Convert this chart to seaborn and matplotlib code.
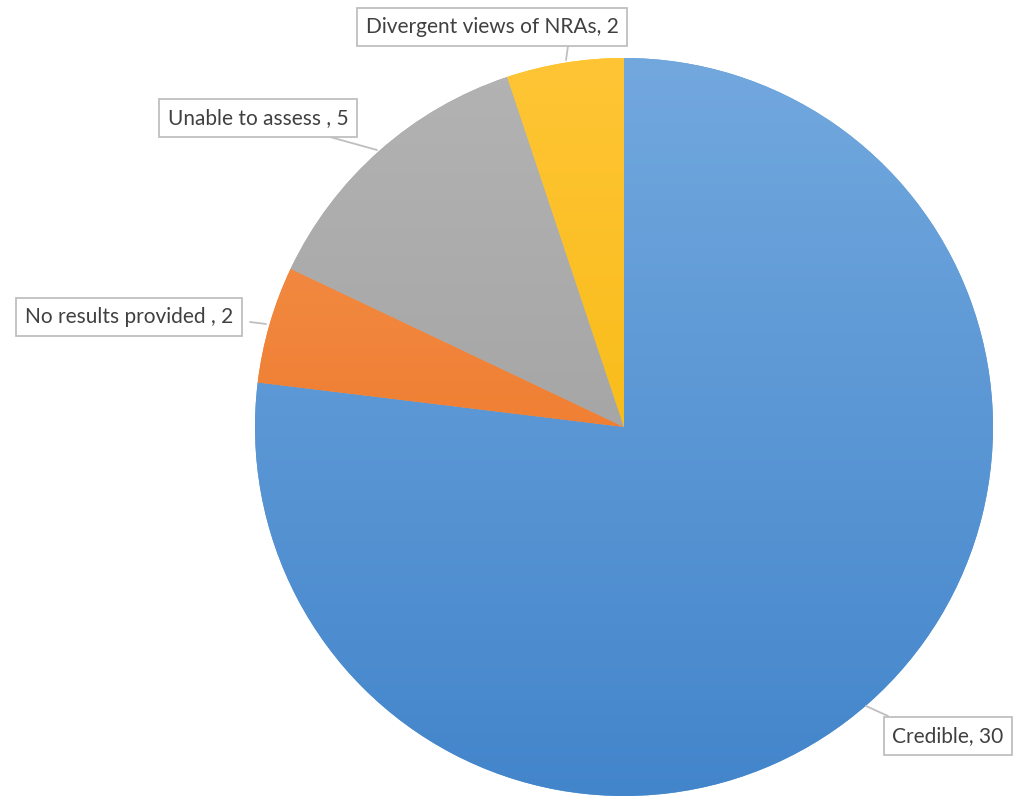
import numpy as np
import matplotlib
matplotlib.use("Agg")
import matplotlib.pyplot as plt
import matplotlib.colors as mcolors
import seaborn as sns

# data
labels = ["Credible", "No results provided ", "Unable to assess ", "Divergent views of NRAs"]
values = [30, 2, 5, 2]
colors = ["#5b9bd5", "#ed7d31", "#a5a5a5", "#ffc000"]
top_colors = ["#72a8de", "#f59450", "#b3b3b3", "#ffc535"]
bottom_colors = ["#4385cb", "#e96b17", "#999999", "#f2b400"]

# label box centre (pixels) and leader end points (box side, pie edge), pixels
label_pos = [(948, 736), (129, 317), (258, 118), (492, 27)]
leader = [((888, 716), (866, 706)), ((250, 322), (266, 324)),
          ((330, 137), (377, 150)), ((568, 46), (566, 60))]

sns.set_theme(style="white")
plt.rcParams["font.family"] = ["Lato", "DejaVu Sans"]

W, H = 1015, 797
fig = plt.figure(figsize=(W / 100, H / 100), dpi=100)
ax = fig.add_axes([0, 0, 1, 1])

cx, cy, r = 624, H - 427, 369
wedges, _ = ax.pie(values, colors=colors, startangle=90, counterclock=False,
                   center=(cx, cy), radius=r, frame=True,
                   wedgeprops=dict(linewidth=0))

# vertical gradient over each wedge (lighter at top)
t = np.linspace(0, 1, 256)[:, None, None]
for w, c0, c1 in zip(wedges, bottom_colors, top_colors):
    lo = np.array(mcolors.to_rgb(c0))
    hi = np.array(mcolors.to_rgb(c1))
    grad = lo * (1 - t) + hi * t
    grad = np.repeat(grad, 2, axis=1)
    im = ax.imshow(grad, extent=(cx - r, cx + r, cy - r, cy + r), origin="lower",
                   aspect="auto", zorder=2)
    im.set_clip_path(w)

ax.set_xlim(0, W)
ax.set_ylim(0, H)
ax.set_aspect("equal")
ax.axis("off")

for lab, v, (px, py), (p0, p1) in zip(labels, values, label_pos, leader):
    ax.plot([p0[0], p1[0]], [H - p0[1], H - p1[1]], color="#bfbfbf", lw=1.3, zorder=3)
    ax.text(px, H - py, f"{lab}, {v}", ha="center", va="center", fontsize=15,
            color="#404040", zorder=4,
            bbox=dict(boxstyle="square,pad=0.42", fc="white", ec="#bfbfbf", lw=1.3))

fig.savefig("out.png", dpi=100)
